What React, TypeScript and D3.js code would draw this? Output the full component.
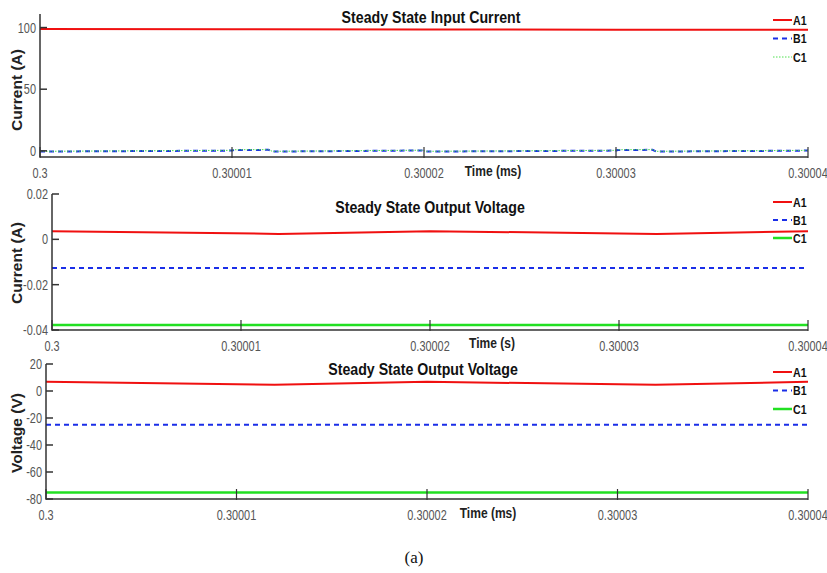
import * as d3 from 'd3';

// x axis (shared)
const timeTicks = [0.3, 0.30001, 0.30002, 0.30003, 0.30004];
const timeTickLabels = ['0.3', '0.30001', '0.30002', '0.30003', '0.30004'];
const seriesNames = ['A1', 'B1', 'C1'];

// panel 1 - steady state input current
const inTimeA = [0.3, 0.30001, 0.30002, 0.30003, 0.30004];
const inA1 = [98.9, 98.7, 98.5, 98.3, 98.2];
const inTimeBC = [0.3, 0.30001, 0.3000101, 0.3000119, 0.3000121, 0.3000199, 0.3000201, 0.30003, 0.3000301, 0.3000319, 0.3000321, 0.30004];
const inB1 = [-0.6, 0.2, 0.7, 0.8, -0.6, 0.3, -0.6, 0.2, 0.7, 0.8, -0.6, 0.2];
const inC1 = [-0.4, 0.4, 0.9, 1.0, -0.4, 0.5, -0.4, 0.4, 0.9, 1.0, -0.4, 0.4];
const inYTicks = [0, 50, 100];

// panel 2 - output (current axis)
const outTime = [0.3, 0.300012, 0.30002, 0.300032, 0.30004];
const outCurA1 = [0.0036, 0.0024, 0.0036, 0.0024, 0.0036];
const outCurB1 = [-0.0127, -0.0127, -0.0127, -0.0127, -0.0127];
const outCurC1 = [-0.0378, -0.0378, -0.0378, -0.0378, -0.0378];
const outCurYTicks = [-0.04, -0.02, 0, 0.02];
const outCurYLabels = ['-0.04', '-0.02', '0', '0.02'];

// panel 3 - output voltage
const outVoltA1 = [6.8, 4.6, 6.8, 4.6, 6.8];
const outVoltB1 = [-25, -25, -25, -25, -25];
const outVoltC1 = [-75.2, -75.2, -75.2, -75.2, -75.2];
const outVoltYTicks = [-80, -60, -40, -20, 0, 20];

const SANS = '"Liberation Sans", Arial, sans-serif';
const AXIS = '#333';
const TICKTXT = '#555';

// narrow-looking text: squeeze horizontally
function NText(props: { x: number; y: number; sx: number; anchor?: string; size: number; bold?: boolean; fill: string; children: string }) {
  return (
    <text transform={`translate(${props.x},${props.y}) scale(${props.sx},1)`} textAnchor={props.anchor || 'start'}
      fontFamily={SANS} fontWeight={props.bold ? 'bold' : 'normal'} fontSize={props.size} fill={props.fill}>
      {props.children}
    </text>
  );
}

type Series = { t: number[]; v: number[]; color: string; width: number; dash?: string };

type PanelProps = {
  left: number; right: number; top: number; bottom: number;
  yDomain: [number, number];
  yTicks: number[]; yLabels: string[];
  series: Series[];
  title: string; titleX: number; titleY: number;
  xLabel: string; xLabelX: number; xLabelY: number;
  yLabel: string; yLabelY: number;
  legendTop: number; legendGap: number;
};

function Panel(p: PanelProps) {
  const x = d3.scaleLinear().domain([0.3, 0.30004]).range([p.left, p.right]);
  const y = d3.scaleLinear().domain(p.yDomain).range([p.bottom, p.top]);
  const line = d3.line<[number, number]>().x(d => x(d[0])).y(d => y(d[1]));
  return (
    <g>
      {p.series.map((s, i) => (
        <path key={i} d={line(s.t.map((t, j) => [t, s.v[j]]) as [number, number][]) || ''}
          fill="none" stroke={s.color} strokeWidth={s.width} strokeDasharray={s.dash} />
      ))}
      {/* axes */}
      <line x1={p.left} x2={p.left} y1={p.top} y2={p.bottom} stroke={AXIS} strokeWidth={1.5} />
      <line x1={p.left} x2={p.right} y1={p.bottom} y2={p.bottom} stroke={AXIS} strokeWidth={1.5} />
      {p.yTicks.map((t, i) => (
        <g key={'y' + i}>
          <line x1={p.left} x2={p.left + 7} y1={y(t)} y2={y(t)} stroke={AXIS} strokeWidth={1.5} />
          <NText x={p.left - 4} y={y(t) + 5} sx={0.78} anchor="end" size={14} fill={TICKTXT}>{p.yLabels[i]}</NText>
        </g>
      ))}
      {timeTicks.map((t, i) => (
        <g key={'x' + i}>
          <line x1={x(t)} x2={x(t)} y1={p.bottom + 1} y2={p.bottom - 10} stroke={AXIS} strokeWidth={1.2} />
          <NText x={x(t)} y={p.bottom + 21} sx={0.78} anchor="middle" size={14} fill={TICKTXT}>{timeTickLabels[i]}</NText>
        </g>
      ))}
      <NText x={p.titleX} y={p.titleY} sx={0.86} anchor="middle" size={16.5} bold fill="#111">{p.title}</NText>
      <NText x={p.xLabelX} y={p.xLabelY} sx={0.83} anchor="middle" size={14.5} bold fill="#222">{p.xLabel}</NText>
      <text transform={`translate(22,${p.yLabelY}) rotate(-90)`} textAnchor="middle" fontFamily={SANS} fontWeight="bold" fontSize={15.5} fill="#222">{p.yLabel}</text>
      {p.series.map((s, i) => (
        <g key={'l' + i}>
          <line x1={773} x2={792} y1={p.legendTop + i * p.legendGap} y2={p.legendTop + i * p.legendGap}
            stroke={s.color} strokeWidth={s.width} strokeDasharray={s.dash} />
          <NText x={793} y={p.legendTop + i * p.legendGap + 4.5} sx={0.85} size={12.5} bold fill="#111">{seriesNames[i]}</NText>
        </g>
      ))}
    </g>
  );
}

export default function App() {
  return (
    <svg width={827} height={573} style={{ position: 'absolute', left: 0, top: 0, background: '#fff' }}>
      <Panel left={40} right={808} top={14} bottom={157} yDomain={[-5, 111]}
        yTicks={inYTicks} yLabels={inYTicks.map(String)}
        series={[
          { t: inTimeA, v: inA1, color: '#f01010', width: 2 },
          { t: inTimeBC, v: inB1, color: '#1a2ee8', width: 2, dash: '5,4' },
          { t: inTimeBC, v: inC1, color: '#4ee04e', width: 1, dash: '1.5,1.5' },
        ]}
        title="Steady State Input Current" titleX={431} titleY={23}
        xLabel="Time (ms)" xLabelX={493} xLabelY={176}
        yLabel="Current (A)" yLabelY={90} legendTop={20} legendGap={18.5} />
      <Panel left={52} right={808} top={194} bottom={330} yDomain={[-0.04, 0.02]}
        yTicks={outCurYTicks} yLabels={outCurYLabels}
        series={[
          { t: outTime, v: outCurA1, color: '#f01010', width: 2 },
          { t: outTime, v: outCurB1, color: '#1a2ee8', width: 2, dash: '5,4' },
          { t: outTime, v: outCurC1, color: '#22e022', width: 2.5 },
        ]}
        title="Steady State Output Voltage" titleX={430} titleY={213}
        xLabel="Time (s)" xLabelX={492} xLabelY={348}
        yLabel="Current (A)" yLabelY={263} legendTop={202} legendGap={18} />
      <Panel left={46} right={808} top={364} bottom={499} yDomain={[-80, 20]}
        yTicks={outVoltYTicks} yLabels={outVoltYTicks.map(String)}
        series={[
          { t: outTime, v: outVoltA1, color: '#f01010', width: 2 },
          { t: outTime, v: outVoltB1, color: '#1a2ee8', width: 2, dash: '5,4' },
          { t: outTime, v: outVoltC1, color: '#22e022', width: 2.5 },
        ]}
        title="Steady State Output Voltage" titleX={423} titleY={375}
        xLabel="Time (ms)" xLabelX={488} xLabelY={518}
        yLabel="Voltage (V)" yLabelY={433} legendTop={372} legendGap={18.5} />
      <text x={414} y={563} textAnchor="middle" fontFamily='"Liberation Serif", "Times New Roman", serif' fontSize={17} fill="#111">(a)</text>
    </svg>
  );
}
